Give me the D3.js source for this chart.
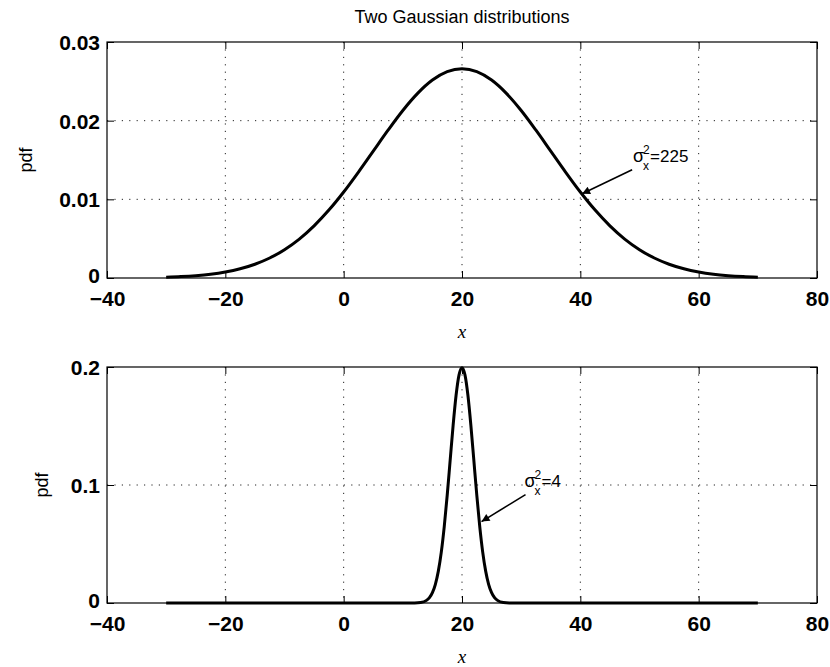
<!DOCTYPE html>
<html>
<head>
<meta charset="utf-8">
<script src="https://cdn.jsdelivr.net/npm/d3@7"></script>
<style>
  html, body { margin: 0; padding: 0; background: #fff; }
  svg { display: block; }
  .tick-lbl text { font-family: "Liberation Sans", Arial, Helvetica, sans-serif; font-weight: bold; font-size: 21px; fill: #000; }
</style>
</head>
<body>
<svg id="chart" width="830" height="667"></svg>
<script>
// Wide distribution: variance 225, sampled every 2.5 from -30 to 70
const wideX = [-30, -27.5, -25, -22.5, -20, -17.5, -15, -12.5, -10, -7.5, -5, -2.5, 0, 2.5, 5, 7.5, 10, 12.5, 15, 17.5,
               20, 22.5, 25, 27.5, 30, 32.5, 35, 37.5, 40, 42.5, 45, 47.5, 50, 52.5, 55, 57.5, 60, 62.5, 65, 67.5, 70];
const wideY = [0.00010, 0.00018, 0.00030, 0.00048, 0.00076, 0.00117, 0.00175, 0.00254, 0.00360, 0.00495, 0.00663, 0.00863, 0.01093,
               0.01347, 0.01613, 0.01879, 0.02130, 0.02347, 0.02516, 0.02623, 0.02660,
               0.02623, 0.02516, 0.02347, 0.02130, 0.01879, 0.01613, 0.01347, 0.01093, 0.00863, 0.00663, 0.00495, 0.00360,
               0.00254, 0.00175, 0.00117, 0.00076, 0.00048, 0.00030, 0.00018, 0.00010];

// Narrow distribution: variance 4
const narrowX = [-30, -20, -10, 0, 10, 12, 13, 14, 14.5, 15, 15.5, 16, 16.5, 17, 17.5, 18, 18.5, 19, 19.5,
                 20, 20.5, 21, 21.5, 22, 22.5, 23, 23.5, 24, 24.5, 25, 25.5, 26, 27, 28, 30, 40, 50, 60, 70];
const narrowY = [0, 0, 0, 0, 0, 0.00007, 0.00044, 0.00222, 0.00455, 0.00877, 0.01587, 0.02700, 0.04314, 0.06476, 0.09132,
                 0.12098, 0.15057, 0.17603, 0.19333, 0.19947, 0.19333, 0.17603, 0.15057, 0.12098, 0.09132, 0.06476,
                 0.04314, 0.02700, 0.01587, 0.00877, 0.00455, 0.00222, 0.00044, 0.00007, 0, 0, 0, 0, 0];

const xTicks = [-40, -20, 0, 20, 40, 60, 80];
const topYTicks = [0, 0.01, 0.02, 0.03];
const botYTicks = [0, 0.1, 0.2];

const titleText = "Two Gaussian distributions";
const yLabelText = "pdf";
const xLabelText = "x";

const svg = d3.select("#chart");
svg.append("rect").attr("width", 830).attr("height", 667).attr("fill", "#fff");

const defs = svg.append("defs");
defs.append("marker")
  .attr("id", "arrowhead")
  .attr("viewBox", "0 0 10 10")
  .attr("refX", 10).attr("refY", 5)
  .attr("markerUnits", "userSpaceOnUse")
  .attr("markerWidth", 11).attr("markerHeight", 8)
  .attr("orient", "auto")
  .append("path").attr("d", "M0,0 L10,5 L0,10 Z").attr("fill", "#000");

const left = 107, right = 817;
const x = d3.scaleLinear().domain([-40, 80]).range([left, right]);

const panels = [
  { top: 42, bottom: 278, yMax: 0.03, yTicks: topYTicks, fmt: d => d === 0 ? "0" : d3.format(".2f")(d),
    xs: wideX, ys: wideY, ylabX: 26,
    note: { tip: [40.3, 0.0107], tail: [50, -24], text: "=225", sx: 51, sy: -32 } },
  { top: 367, bottom: 603, yMax: 0.2, yTicks: botYTicks, fmt: d => d === 0 ? "0" : d3.format(".1f")(d),
    xs: narrowX, ys: narrowY, ylabX: 42,
    note: { tip: [23.3, 0.069], tail: [44, -27], text: "=4", sx: 43, sy: -35 } }
];

panels.forEach(p => {
  const y = d3.scaleLinear().domain([0, p.yMax]).range([p.bottom, p.top]);
  const h = p.bottom - p.top;
  const g = svg.append("g");

  // dotted grid at the interior ticks
  const grid = g.append("g").attr("stroke", "#222").attr("stroke-width", 1).attr("stroke-dasharray", "1.2,6.2");
  grid.selectAll("line.vx").data(xTicks.slice(1, -1)).join("line")
    .attr("x1", d => x(d)).attr("x2", d => x(d)).attr("y1", p.top).attr("y2", p.bottom);
  grid.selectAll("line.hy").data(p.yTicks.slice(1, -1)).join("line")
    .attr("x1", left).attr("x2", right).attr("y1", d => y(d)).attr("y2", d => y(d));

  // bottom axis with labels, inward ticks
  const ax = g.append("g").attr("class", "tick-lbl").attr("transform", `translate(0,${p.bottom})`)
    .call(d3.axisBottom(x).tickValues(xTicks).tickSizeInner(-7).tickSizeOuter(0).tickPadding(13).tickFormat(d3.format("d")));
  ax.select(".domain").remove();
  // top axis, ticks only
  const axT = g.append("g").attr("transform", `translate(0,${p.top})`)
    .call(d3.axisTop(x).tickValues(xTicks).tickSizeInner(-7).tickSizeOuter(0).tickFormat(""));
  axT.select(".domain").remove();
  // left axis with labels
  const ay = g.append("g").attr("class", "tick-lbl").attr("transform", `translate(${left},0)`)
    .call(d3.axisLeft(y).tickValues(p.yTicks).tickSizeInner(-7).tickSizeOuter(0).tickPadding(7).tickFormat(p.fmt));
  ay.select(".domain").remove();
  ay.selectAll("text").attr("dy", d => d === 0 ? "0.2em" : "0.36em");
  // right axis, ticks only
  const ayR = g.append("g").attr("transform", `translate(${right},0)`)
    .call(d3.axisRight(y).tickValues(p.yTicks).tickSizeInner(-7).tickSizeOuter(0).tickFormat(""));
  ayR.select(".domain").remove();
  g.selectAll(".tick line").attr("stroke", "#000").attr("stroke-width", 1);

  // axes box
  g.append("rect").attr("x", left).attr("y", p.top).attr("width", right - left).attr("height", h)
    .attr("fill", "none").attr("stroke", "#000").attr("stroke-width", 1.2);

  // density curve
  const pts = p.xs.map((v, i) => [v, p.ys[i]]);
  g.append("path").datum(pts)
    .attr("d", d3.line().x(d => x(d[0])).y(d => y(d[1])).curve(d3.curveMonotoneX))
    .attr("fill", "none").attr("stroke", "#000").attr("stroke-width", 3).attr("stroke-linejoin", "round");

  // y label
  g.append("text")
    .attr("transform", `translate(${p.ylabX},${(p.top + p.bottom) / 2}) rotate(-90)`)
    .attr("text-anchor", "middle").attr("dy", "0.35em")
    .attr("font-family", "Liberation Sans, Arial, Helvetica, sans-serif").attr("font-size", 18)
    .text(yLabelText);

  // x label
  g.append("text")
    .attr("x", (left + right) / 2).attr("y", p.bottom + 60)
    .attr("text-anchor", "middle")
    .attr("font-family", "Liberation Serif, Times New Roman, serif").attr("font-style", "italic").attr("font-size", 19)
    .text(xLabelText);

  // variance annotation with arrow
  const tx = x(p.note.tip[0]), ty = y(p.note.tip[1]);
  g.append("line")
    .attr("x1", tx + p.note.tail[0]).attr("y1", ty + p.note.tail[1])
    .attr("x2", tx).attr("y2", ty)
    .attr("stroke", "#000").attr("stroke-width", 1.6).attr("marker-end", "url(#arrowhead)");
  const sx = tx + p.note.sx, sy = ty + p.note.sy;
  const lbl = g.append("g").attr("font-family", "Liberation Sans, Arial, Helvetica, sans-serif").attr("fill", "#000");
  lbl.append("text").attr("x", sx).attr("y", sy).attr("font-size", 18).text("σ");
  lbl.append("text").attr("x", sx + 10).attr("y", sy - 8).attr("font-size", 12).text("2");
  lbl.append("text").attr("x", sx + 10).attr("y", sy + 8).attr("font-size", 12).text("x");
  lbl.append("text").attr("x", sx + 17).attr("y", sy).attr("font-size", 17).text(p.note.text);
});

// title
svg.append("text")
  .attr("x", (left + right) / 2).attr("y", 23)
  .attr("text-anchor", "middle")
  .attr("font-family", "Liberation Sans, Arial, Helvetica, sans-serif").attr("font-size", 18)
  .text(titleText);
</script>
</body>
</html>
